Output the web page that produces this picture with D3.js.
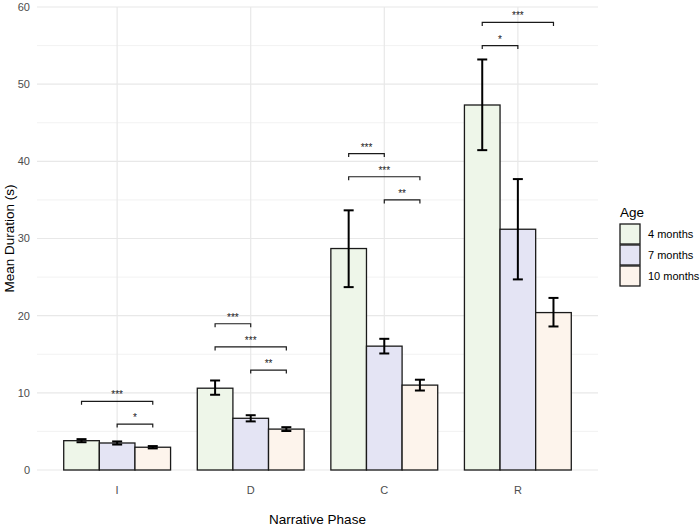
<!DOCTYPE html>
<html>
<head>
<meta charset="utf-8">
<script src="https://cdn.jsdelivr.net/npm/d3@7"></script>
<style>
  body { margin: 0; background: #fff; }
  text { font-family: "Liberation Sans", Arial, sans-serif; }
</style>
</head>
<body>
<div id="my_dataviz"></div>
<script>
// data
var phases = ["I", "D", "C", "R"];
var ages = ["4 months", "7 months", "10 months"];
var ageColors = ["#eef6e9", "#e4e4f4", "#fdf4ec"];
var means = [
  [3.8, 3.5, 2.95],
  [10.6, 6.7, 5.3],
  [28.7, 16.05, 11.0],
  [47.3, 31.2, 20.4]
];
var errLow = [
  [3.6, 3.3, 2.8],
  [9.75, 6.3, 5.05],
  [23.7, 15.1, 10.3],
  [41.45, 24.7, 18.6]
];
var errHigh = [
  [4.0, 3.7, 3.1],
  [11.6, 7.1, 5.55],
  [33.65, 17.0, 11.7],
  [53.2, 37.7, 22.3]
];
// significance brackets: phase, from age, to age, y level, label
var sigPhase = ["I", "I", "D", "D", "D", "C", "C", "C", "R", "R"];
var sigFrom = [0, 1, 0, 0, 1, 0, 0, 1, 0, 0];
var sigTo = [2, 2, 1, 2, 2, 1, 2, 2, 1, 2];
var sigY = [8.9, 5.95, 18.95, 15.95, 12.95, 41.0, 38.0, 35.0, 55.0, 58.0];
var sigLabel = ["***", "*", "***", "***", "**", "***", "***", "**", "*", "***"];
var yTicks = [0, 10, 20, 30, 40, 50, 60];
var yMinor = [5, 15, 25, 35, 45, 55];

// set the dimensions and margins of the graph
var W = 700, H = 529;
var margin = {top: 7, right: 102, bottom: 59, left: 37},
    width = W - margin.left - margin.right,
    height = H - margin.top - margin.bottom;

var svg = d3.select("#my_dataviz")
  .append("svg")
    .attr("width", W)
    .attr("height", H);

var g = svg.append("g")
    .attr("transform", "translate(" + margin.left + "," + margin.top + ")");

// scales: discrete x with 0.6 unit expansion on each side (like ggplot)
var xScale = d3.scalePoint().domain(phases)
    .range([0, width]).padding(0.6);
var step = xScale.step();
var groupW = step * 0.8;
var xAge = d3.scaleBand().domain(d3.range(ages.length)).range([-groupW / 2, groupW / 2]);

var yScale = d3.scaleLinear().domain([0, 60]).range([height, 0]);
var color = d3.scaleOrdinal().domain(ages).range(ageColors);

// grid
g.selectAll(".minor").data(yMinor).enter().append("line")
    .attr("x1", 0).attr("x2", width)
    .attr("y1", d => yScale(d)).attr("y2", d => yScale(d))
    .attr("stroke", "#efefef").attr("stroke-width", 0.8);
g.selectAll(".major").data(yTicks).enter().append("line")
    .attr("x1", 0).attr("x2", width)
    .attr("y1", d => yScale(d)).attr("y2", d => yScale(d))
    .attr("stroke", "#e8e8e8").attr("stroke-width", 1.2);
g.selectAll(".vmajor").data(phases).enter().append("line")
    .attr("x1", d => xScale(d)).attr("x2", d => xScale(d))
    .attr("y1", 0).attr("y2", height)
    .attr("stroke", "#e8e8e8").attr("stroke-width", 1.2);

// y axis labels
g.selectAll(".ytick").data(yTicks).enter().append("text")
    .attr("x", -7).attr("y", d => yScale(d)).attr("dy", "0.35em")
    .attr("text-anchor", "end").attr("font-size", 11).attr("fill", "#4d4d4d")
    .text(d => d);
// x axis labels
g.selectAll(".xtick").data(phases).enter().append("text")
    .attr("x", d => xScale(d)).attr("y", height + 24)
    .attr("text-anchor", "middle").attr("font-size", 11).attr("fill", "#4d4d4d")
    .text(d => d);

// bars
var rows = [];
phases.forEach(function(p, i) {
  ages.forEach(function(a, j) {
    rows.push({phase: p, age: a, j: j, mean: means[i][j], lo: errLow[i][j], hi: errHigh[i][j]});
  });
});

g.selectAll(".bar").data(rows).enter().append("rect")
    .attr("x", d => xScale(d.phase) + xAge(d.j))
    .attr("y", d => yScale(d.mean))
    .attr("width", xAge.bandwidth())
    .attr("height", d => yScale(0) - yScale(d.mean))
    .attr("fill", d => color(d.age))
    .attr("stroke", "#1a1a1a").attr("stroke-width", 1.3);

// error bars
var cap = 5;
var eb = g.selectAll(".err").data(rows).enter().append("g")
    .attr("transform", d => "translate(" + (xScale(d.phase) + xAge(d.j) + xAge.bandwidth() / 2) + ",0)");
eb.append("line").attr("y1", d => yScale(d.lo)).attr("y2", d => yScale(d.hi))
    .attr("stroke", "#000").attr("stroke-width", 2);
eb.append("line").attr("x1", -cap).attr("x2", cap)
    .attr("y1", d => yScale(d.lo)).attr("y2", d => yScale(d.lo))
    .attr("stroke", "#000").attr("stroke-width", 2);
eb.append("line").attr("x1", -cap).attr("x2", cap)
    .attr("y1", d => yScale(d.hi)).attr("y2", d => yScale(d.hi))
    .attr("stroke", "#000").attr("stroke-width", 2);

// significance brackets
var sig = sigPhase.map(function(p, k) {
  return {
    x1: xScale(p) + xAge(sigFrom[k]) + xAge.bandwidth() / 2,
    x2: xScale(p) + xAge(sigTo[k]) + xAge.bandwidth() / 2,
    y: yScale(sigY[k]), label: sigLabel[k]
  };
});
var tick = 3.5;
g.selectAll(".sig").data(sig).enter().append("path")
    .attr("d", d => "M" + d.x1 + "," + (d.y + tick) + "V" + d.y + "H" + d.x2 + "V" + (d.y + tick))
    .attr("fill", "none").attr("stroke", "#1a1a1a").attr("stroke-width", 1.2);
g.selectAll(".sigtxt").data(sig).enter().append("text")
    .attr("x", d => (d.x1 + d.x2) / 2).attr("y", d => d.y - 3)
    .attr("text-anchor", "middle").attr("font-size", 10).attr("fill", "#1a1a1a")
    .text(d => d.label);

// axis titles
svg.append("text")
    .attr("x", margin.left + width / 2).attr("y", H - 5)
    .attr("text-anchor", "middle").attr("font-size", 13.5).attr("fill", "#000")
    .text("Narrative Phase");
svg.append("text")
    .attr("transform", "translate(14," + (margin.top + height / 2) + ") rotate(-90)")
    .attr("text-anchor", "middle").attr("font-size", 13.5).attr("fill", "#000")
    .text("Mean Duration (s)");

// legend
var leg = svg.append("g").attr("transform", "translate(620,224)");
leg.append("text").attr("x", 0).attr("y", -7).attr("font-size", 13.5).attr("fill", "#000").text("Age");
ages.forEach(function(a, j) {
  leg.append("rect").attr("x", 0).attr("y", j * 21).attr("width", 20).attr("height", 20)
    .attr("fill", color(a)).attr("stroke", "#1a1a1a").attr("stroke-width", 1.3);
  leg.append("text").attr("x", 28).attr("y", j * 21 + 10).attr("dy", "0.35em")
    .attr("font-size", 11).attr("fill", "#000").text(a);
});
</script>
</body>
</html>
